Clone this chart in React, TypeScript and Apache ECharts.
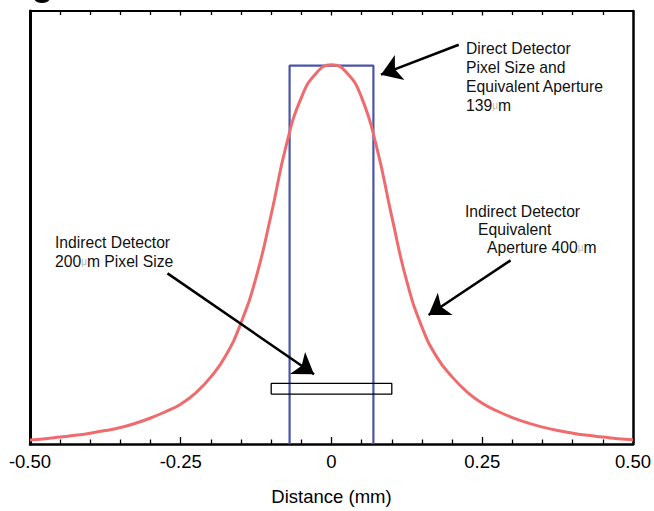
import React, { useEffect, useRef } from "react";
import * as echarts from "echarts";

// x positions (mm) and normalized response of the indirect detector LSF
const curveX = [
  -0.5, -0.475, -0.45, -0.425, -0.4, -0.375, -0.35, -0.325, -0.3, -0.275, -0.25,
  -0.225, -0.2, -0.175, -0.15, -0.125, -0.1, -0.075, -0.05, -0.025, 0,
  0.025, 0.05, 0.075, 0.1, 0.125, 0.15, 0.175, 0.2, 0.225, 0.25,
  0.275, 0.3, 0.325, 0.35, 0.375, 0.4, 0.425, 0.45, 0.475, 0.5,
];
const curveY = [
  0.009, 0.012, 0.016, 0.02, 0.025, 0.031, 0.038, 0.048, 0.06, 0.075, 0.092,
  0.118, 0.155, 0.205, 0.28, 0.385, 0.53, 0.69, 0.8, 0.857, 0.876,
  0.858, 0.8, 0.685, 0.525, 0.375, 0.27, 0.2, 0.155, 0.12, 0.094,
  0.076, 0.061, 0.049, 0.039, 0.031, 0.025, 0.02, 0.016, 0.012, 0.01,
];

// Direct detector aperture (139 um) and indirect pixel (200 um)
const directX = [-0.0695, -0.0695, 0.0695, 0.0695];
const directY = [0, 0.874, 0.874, 0];
const pixelX = [-0.1, -0.1, 0.1, 0.1, -0.1];
const pixelY = [0.115, 0.14, 0.14, 0.115, 0.115];

// annotation arrows: [startX, startY, tipX, tipY] in data units
const arrowDirect = [0.211, 0.922, 0.082, 0.853];
const arrowPixel = [-0.272, 0.394, -0.029, 0.161];
const arrowAperture = [0.297, 0.424, 0.161, 0.298];

const xTickLabels = ["-0.50", "-0.25", "0", "0.25", "0.50"];
const xTickValues = [-0.5, -0.25, 0, 0.25, 0.5];

const FONT = "'Liberation Sans', Arial, Helvetica, sans-serif";

export default function App() {
  const ref = useRef<HTMLDivElement>(null);
  useEffect(() => {
    if (!ref.current) return;
    const chart = echarts.init(ref.current, null, { renderer: "svg" });
    const pair = (xs: number[], ys: number[]) => xs.map((x, i) => [x, ys[i]]);
    const arrow = (a: number[]) => [{ coord: [a[0], a[1]] }, { coord: [a[2], a[3]] }];
    const fmt = (v: number) => {
      const i = xTickValues.findIndex((t) => Math.abs(t - v) < 1e-9);
      return i >= 0 ? xTickLabels[i] : "";
    };
    const txt = (x: number, y: number, text: string) => ({
      type: "text",
      x,
      y,
      style: {
        text,
        font: `15.7px ${FONT}`,
        fill: "#111",
        verticalAlign: "middle",
        rich: { u: { fontSize: 10, fill: "#b8b8b8", fontFamily: FONT } },
      },
    });
    chart.setOption({
      animation: false,
      backgroundColor: "#fff",
      grid: { left: 30, right: 19, top: 11, bottom: 64 },
      xAxis: [
        {
          type: "value",
          min: -0.5,
          max: 0.5,
          interval: 0.25,
          position: "bottom",
          axisLine: { show: true, onZero: false, lineStyle: { color: "#000", width: 2.5 } },
          axisTick: { show: true, inside: true, length: 7, lineStyle: { color: "#000", width: 1.3 } },
          minorTick: { show: true, splitNumber: 5, length: 4.5, lineStyle: { color: "#000", width: 1.3 } },
          splitLine: { show: false },
          axisLabel: {
            formatter: fmt,
            color: "#000",
            fontSize: 18.5,
            fontFamily: FONT,
            margin: 8,
            showMinLabel: true,
            showMaxLabel: true,
          },
          name: "Distance (mm)",
          nameLocation: "middle",
          nameGap: 43,
          nameTextStyle: { color: "#000", fontSize: 18.5, fontFamily: FONT },
        },
        {
          type: "value",
          min: -0.5,
          max: 0.5,
          interval: 0.25,
          position: "top",
          axisLine: { show: true, onZero: false, lineStyle: { color: "#000", width: 2 } },
          axisTick: { show: true, inside: true, length: 4.5, lineStyle: { color: "#000", width: 1.3 } },
          minorTick: { show: true, splitNumber: 5, length: 4, lineStyle: { color: "#000", width: 1.3 } },
          splitLine: { show: false },
          axisLabel: { show: false },
        },
      ],
      yAxis: [
        {
          type: "value",
          min: 0,
          max: 1,
          position: "left",
          axisLine: { show: true, onZero: false, lineStyle: { color: "#000", width: 3 } },
          axisTick: { show: false },
          axisLabel: { show: false },
          splitLine: { show: false },
        },
        {
          type: "value",
          min: 0,
          max: 1,
          position: "right",
          axisLine: { show: true, onZero: false, lineStyle: { color: "#000", width: 2.5 } },
          axisTick: { show: false },
          axisLabel: { show: false },
          splitLine: { show: false },
        },
      ],
      series: [
        {
          type: "line",
          data: pair(directX, directY),
          showSymbol: false,
          symbol: "none",
          lineStyle: { color: "#4b55a8", width: 2.2 },
          z: 2,
        },
        {
          type: "line",
          data: pair(pixelX, pixelY),
          showSymbol: false,
          symbol: "none",
          lineStyle: { color: "#000", width: 1.3 },
          z: 2,
        },
        {
          type: "line",
          data: pair(curveX, curveY),
          smooth: true,
          showSymbol: false,
          symbol: "none",
          lineStyle: { color: "#ef6b6e", width: 3 },
          z: 3,
          markLine: {
            silent: true,
            symbol: ["none", "arrow"],
            symbolSize: 20,
            label: { show: false },
            lineStyle: { color: "#000", width: 2.5, type: "solid" },
            data: [arrow(arrowDirect), arrow(arrowPixel), arrow(arrowAperture)],
          },
        },
      ],
      graphic: [
        { type: "ellipse", shape: { cx: 42, cy: -2, rx: 8, ry: 5 }, style: { fill: "#000" } },
        txt(466, 48, "Direct Detector"),
        txt(466, 67, "Pixel Size and"),
        txt(466, 86, "Equivalent Aperture"),
        txt(466, 105, "139{u|μ}m"),
        txt(55, 242, "Indirect Detector"),
        txt(55, 261, "200{u|μ}m Pixel Size"),
        txt(465, 211, "Indirect Detector"),
        txt(478, 229, "Equivalent"),
        txt(487, 247, "Aperture 400{u|μ}m"),
      ],
    });
    return () => chart.dispose();
  }, []);
  return <div ref={ref} style={{ width: 654, height: 511, position: "absolute", left: 0, top: 0 }} />;
}
